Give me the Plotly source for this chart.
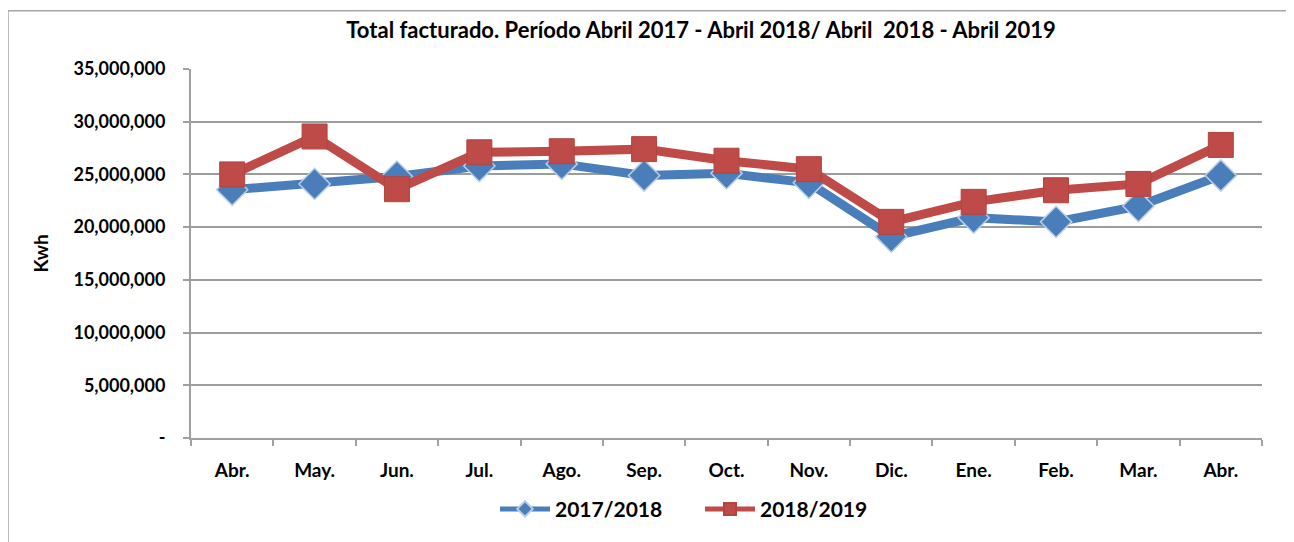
import plotly.graph_objects as go

months = ["Abr.", "May.", "Jun.", "Jul.", "Ago.", "Sep.", "Oct.", "Nov.", "Dic.", "Ene.", "Feb.", "Mar.", "Abr."]
s_2017_2018 = [23550000, 24100000, 24800000, 25800000, 26000000, 24900000, 25100000, 24200000, 19100000, 20900000, 20500000, 22000000, 24900000]
s_2018_2019 = [25000000, 28600000, 23600000, 27100000, 27200000, 27400000, 26300000, 25500000, 20500000, 22400000, 23500000, 24100000, 27800000]
y_ticks = [0, 5000000, 10000000, 15000000, 20000000, 25000000, 30000000, 35000000]
y_labels = ["-", "5,000,000", "10,000,000", "15,000,000", "20,000,000", "25,000,000", "30,000,000", "35,000,000"]

FONT = "Lato"
x = list(range(len(months)))

fig = go.Figure()
fig.add_trace(go.Scatter(
    x=x, y=s_2017_2018, name="2017/2018", mode="lines+markers", legend="legend",
    line=dict(color="#4A7EBB", width=9),
    marker=dict(symbol="diamond", size=24, color="#4A7EBB", line=dict(color="#B9CDE5", width=1.5)),
))
fig.add_trace(go.Scatter(
    x=x, y=s_2018_2019, name="2018/2019", mode="lines+markers", legend="legend2",
    line=dict(color="#BE4B48", width=9),
    marker=dict(symbol="square", size=25, color="#BE4B48", line=dict(color="#B04440", width=1)),
))

# page has an 8px body margin; figure is sized to fit inside
OFF = 8
W, H = 1294 - OFF, 542 - OFF
L, R, T, B = 183, 32, 61, 100
pw, ph = W - L - R, H - T - B

def px(xp):  # page x -> paper
    return (xp - OFF - L) / pw

def py(yp):  # page y -> paper
    return (H - B - (yp - OFF)) / ph

fig.add_shape(type="rect", xref="paper", yref="paper",
              x0=px(8), x1=px(1320), y0=py(580), y1=py(10),
              line=dict(color="#A6A6A6", width=1.5), fillcolor="rgba(0,0,0,0)", layer="below")

legend_common = dict(orientation="h", yanchor="middle", xanchor="left",
                     font=dict(size=21, family=FONT, weight="bold"), itemwidth=50,
                     bgcolor="rgba(0,0,0,0)", itemsizing="constant")

fig.update_layout(
    width=W, height=H,
    margin=dict(l=L, r=R, t=T, b=B),
    paper_bgcolor="white", plot_bgcolor="white",
    font=dict(family=FONT, color="black"),
    title=dict(text="<b>Total facturado. Período Abril 2017 - Abril 2018/ Abril  2018 - Abril 2019</b>",
               x=(701 - OFF) / W, xanchor="center", y=1 - (30 - OFF) / H, yanchor="middle",
               font=dict(size=22, family=FONT)),
    showlegend=True,
    legend=dict(x=px(495), y=py(514), **legend_common),
    legend2=dict(x=px(700), y=py(514), **legend_common),
    xaxis=dict(
        range=[-0.5, 12.5], tickmode="array", tickvals=x, ticktext=[f"<b>{m}</b>" for m in months],
        ticks="", showgrid=False, zeroline=False,
        showline=True, linecolor="#A0A0A0", linewidth=2,
        tickfont=dict(size=19, family=FONT), ticklabelstandoff=14,
        minor=dict(tickmode="linear", tick0=-0.5, dtick=1, ticks="outside", ticklen=6,
                   tickcolor="#A0A0A0", tickwidth=1.5, showgrid=False),
    ),
    yaxis=dict(
        range=[0, 35000000], tickmode="array", tickvals=y_ticks, ticktext=[f"<b>{t}</b>" for t in y_labels],
        showgrid=True, gridcolor="#9C9C9C", gridwidth=2, zeroline=False,
        showline=True, linecolor="#A0A0A0", linewidth=2,
        ticks="outside", ticklen=6, tickcolor="#A0A0A0", tickwidth=1.5,
        tickfont=dict(size=18, family=FONT), ticklabelstandoff=14,
        title=dict(text="<b>Kwh</b>", font=dict(size=19, family=FONT), standoff=20),
    ),
)

fig.write_html("out.html")
